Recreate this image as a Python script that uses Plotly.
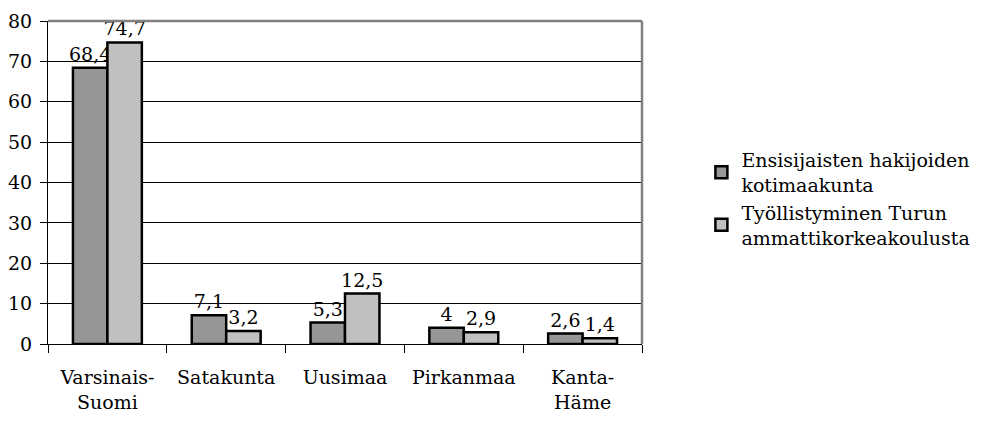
import plotly.graph_objects as go

categories = ["Varsinais-<br>Suomi", "Satakunta", "Uusimaa", "Pirkanmaa", "Kanta-<br>Häme"]
series1_name = "Ensisijaisten hakijoiden<br>kotimaakunta"
series2_name = "Työllistyminen Turun<br>ammattikorkeakoulusta"
series1_values = [68.4, 7.1, 5.3, 4.0, 2.6]
series2_values = [74.7, 3.2, 12.5, 2.9, 1.4]
y_ticks = [0, 10, 20, 30, 40, 50, 60, 70, 80]


def fmt(v):
    return ("%g" % v).replace(".", ",")


FONT = "DejaVu Serif"
FS = 19

fig = go.Figure()
fig.add_trace(go.Bar(
    x=categories, y=series1_values, name=series1_name,
    marker=dict(color="#969696", line=dict(color="black", width=2.5)),
    text=[fmt(v) for v in series1_values], textposition="outside",
    constraintext="none",
    textfont=dict(family=FONT, size=FS, color="black"), cliponaxis=False,
))
fig.add_trace(go.Bar(
    x=categories, y=series2_values, name=series2_name,
    marker=dict(color="#c0c0c0", line=dict(color="black", width=2.5)),
    text=[fmt(v) for v in series2_values], textposition="outside",
    constraintext="none",
    textfont=dict(family=FONT, size=FS, color="black"), cliponaxis=False,
))

fig.update_layout(
    width=982, height=421,
    margin=dict(l=48, r=340, t=21, b=77, autoexpand=False),
    paper_bgcolor="white", plot_bgcolor="white",
    font=dict(family=FONT, size=FS, color="black"),
    barmode="group", bargap=0.42, bargroupgap=0,
    showlegend=True,
    legend=dict(x=1.1, xanchor="left", y=0.45, yanchor="middle",
                font=dict(family=FONT, size=FS, color="black"),
                itemwidth=30, tracegroupgap=4, bgcolor="rgba(0,0,0,0)"),
)
fig.update_xaxes(
    showline=True, linecolor="black", linewidth=1,
    ticks="outside", tickson="boundaries", ticklen=8, tickcolor="black",
    showgrid=False, tickfont=dict(family=FONT, size=FS), automargin=False,
    tickangle=0, ticklabelstandoff=16,
)
fig.update_yaxes(
    range=[0, 80], tickvals=y_ticks, showline=True, linecolor="black", linewidth=1,
    ticks="outside", ticklen=7, tickcolor="black",
    showgrid=True, gridcolor="black", gridwidth=1, zeroline=False,
    tickfont=dict(family=FONT, size=FS), automargin=False, ticklabelstandoff=4,
)
fig.add_shape(type="line", xref="x domain", yref="y domain", x0=0, x1=1, y0=1, y1=1,
              line=dict(color="#808080", width=2.5))
fig.add_shape(type="line", xref="x domain", yref="y domain", x0=1, x1=1, y0=0, y1=1,
              line=dict(color="#808080", width=2.5))

fig.write_html("out.html", config={"displayModeBar": False},
               post_script="document.body.style.margin='0';")
